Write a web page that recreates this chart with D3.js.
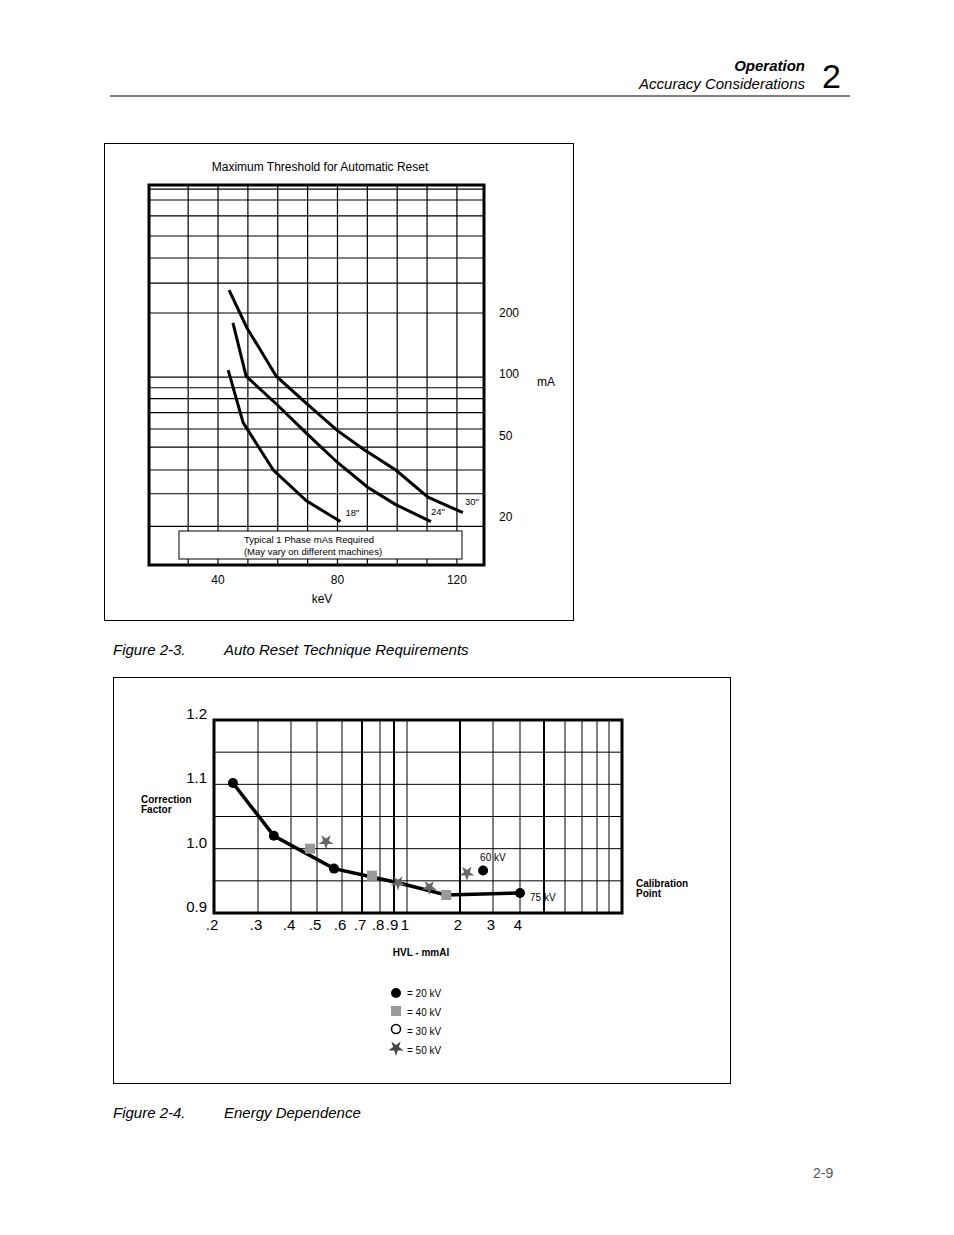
<!DOCTYPE html>
<html><head><meta charset="utf-8">
<script src="https://cdn.jsdelivr.net/npm/d3@7"></script>
<style>body{margin:0;background:#fff}text{font-family:"Liberation Sans",Arial,sans-serif}</style>
</head><body><div id="page"></div>
<script>
// Figure 2-3 data (keV, mA)
var curve30 = [[43.7,259],[49.7,169],[59.5,98],[69.2,73],[80,53],[88.7,43],[99.5,34],[110.3,25],[122,21]];
var curve24 = [[45,179],[49.4,98],[59.8,71],[69.9,51],[80,37],[90.1,28],[99.5,23],[111.3,19]];
var curve18 = [[43.4,105],[48.4,58],[58.5,34],[69.6,24],[81,19]];
var curveLabels = [["18\"",81,19,12,-6],["24\"",111.3,19,7,-7],["30\"",122,21,9,-8]];
var kevGrid = [30,40,50,60,70,80,90,100,110,120];
var kevTicks = [40,80,120];
var maGrid = [810,716,598,477,372,280,200,97,86,76,65,54,44,34,26,18];
var maTicks = [200,100,50,20];

// Figure 2-4 data (HVL mmAl, correction factor)
var fitLine = [[0.243,1.102],[0.348,1.02],[0.568,0.969],[0.756,0.956],[0.931,0.947],[1.74,0.928],[4,0.931]];
var kv20 = [[0.243,1.102],[0.348,1.02],[0.568,0.969],[4,0.931],[2.70,0.966]];
var kv40 = [[0.473,1.0],[0.756,0.958],[1.74,0.928]];
var kv50 = [[0.536,1.011],[0.931,0.947],[1.42,0.94],[2.21,0.962]];
// chart paper spacing (not a pure log scale)
var hvlPaper = [0.2,0.3,0.4,0.5,0.6,0.7,0.8,0.9,1,2,3,4,5,6,7,8,9,10];
var hvlPaperPx = [214,258,291,317,342,362,380,394,407,460,493,520,544,565,582,597,609,622];
var hvlBold = [0.7,0.9,2,5];
var hvlTicks = [[0.2,".2"],[0.3,".3"],[0.4,".4"],[0.5,".5"],[0.6,".6"],[0.7,".7"],[0.8,".8"],[0.9,".9"],[1,"1"],[2,"2"],[3,"3"],[4,"4"]];
var cfGrid = [0.95,1.0,1.05,1.1,1.15];
var cfTicks = [[1.2,"1.2"],[1.1,"1.1"],[1.0,"1.0"],[0.9,"0.9"]];
var legendItems = ["= 20 kV","= 40 kV","= 30 kV","= 50 kV"];

var svg = d3.select("#page").append("svg").attr("width",954).attr("height",1235);

// page header
svg.append("text").attr("x",805).attr("y",71).attr("text-anchor","end").style("font-size","15px")
  .style("font-weight","bold").style("font-style","italic").text("Operation");
svg.append("text").attr("x",805).attr("y",89).attr("text-anchor","end").style("font-size","15px")
  .style("font-style","italic").text("Accuracy Considerations");
svg.append("text").attr("x",822).attr("y",88).style("font-size","34px").text("2");
svg.append("line").attr("x1",110).attr("x2",850).attr("y1",96).attr("y2",96).attr("stroke","#000");

// ---------- Figure 2-3 ----------
svg.append("rect").attr("x",104.5).attr("y",143.5).attr("width",469).attr("height",477)
  .attr("fill","none").attr("stroke","#000");
svg.append("text").attr("x",320).attr("y",171).attr("text-anchor","middle").style("font-size","12px")
  .text("Maximum Threshold for Automatic Reset");

var x1 = d3.scaleLinear().domain([16.55,129.4]).range([148,485]);
var y1 = d3.scaleLog().domain([20,200]).range([517,313]);
var g1 = svg.append("g");
g1.selectAll(".vg").data(kevGrid).enter().append("line")
  .attr("x1",d=>x1(d)).attr("x2",d=>x1(d)).attr("y1",184).attr("y2",566)
  .attr("stroke","#000").attr("stroke-width",1.2);
g1.selectAll(".hg").data(maGrid).enter().append("line")
  .attr("x1",148).attr("x2",485).attr("y1",d=>y1(d)).attr("y2",d=>y1(d))
  .attr("stroke","#000").attr("stroke-width",1.2);
g1.append("rect").attr("x",179).attr("y",531).attr("width",283).attr("height",28)
  .attr("fill","#fff").attr("stroke","#000");
g1.append("text").attr("x",309).attr("y",543).attr("text-anchor","middle").style("font-size","9.5px")
  .text("Typical 1 Phase mAs Required");
g1.append("text").attr("x",313).attr("y",555).attr("text-anchor","middle").style("font-size","9.5px")
  .text("(May vary on different machines)");
g1.append("rect").attr("x",149).attr("y",185).attr("width",335).attr("height",380)
  .attr("fill","none").attr("stroke","#000").attr("stroke-width",3);

var line1 = d3.line().x(d=>x1(d[0])).y(d=>y1(d[1]));
[curve30,curve24,curve18].forEach(function(c){
  g1.append("path").attr("d",line1(c)).attr("fill","none").attr("stroke","#000").attr("stroke-width",3);
});
g1.selectAll(".cl").data(curveLabels).enter().append("text")
  .attr("x",d=>x1(d[1])+d[3]).attr("y",d=>y1(d[2])+d[4]).attr("text-anchor","middle")
  .style("font-size","9.5px").text(d=>d[0]);
g1.selectAll(".kt").data(kevTicks).enter().append("text")
  .attr("x",d=>x1(d)).attr("y",584).attr("text-anchor","middle").style("font-size","12px").text(d=>d);
svg.append("text").attr("x",322).attr("y",603).attr("text-anchor","middle").style("font-size","12px").text("keV");
g1.selectAll(".mt").data(maTicks).enter().append("text")
  .attr("x",499).attr("y",d=>y1(d)+4).style("font-size","12px").text(d=>d);
svg.append("text").attr("x",537).attr("y",386).style("font-size","12px").text("mA");

svg.append("text").attr("x",113).attr("y",655).style("font-size","15px").style("font-style","italic").text("Figure 2-3.");
svg.append("text").attr("x",224).attr("y",655).style("font-size","15px").style("font-style","italic").text("Auto Reset Technique Requirements");

// ---------- Figure 2-4 ----------
svg.append("rect").attr("x",113.5).attr("y",677.5).attr("width",617).attr("height",406)
  .attr("fill","none").attr("stroke","#000");

var x2 = d3.scaleLinear().domain(hvlPaper).range(hvlPaperPx);
var y2 = d3.scaleLinear().domain([0.9,1.2]).range([913,720]);
var g2 = svg.append("g");
g2.selectAll(".vg").data(hvlPaper.slice(1,-1)).enter().append("line")
  .attr("x1",d=>x2(d)).attr("x2",d=>x2(d)).attr("y1",720).attr("y2",913)
  .attr("stroke","#000").attr("stroke-width",d=>hvlBold.includes(d)?2:1);
g2.selectAll(".hg").data(cfGrid).enter().append("line")
  .attr("x1",214).attr("x2",622).attr("y1",d=>y2(d)).attr("y2",d=>y2(d))
  .attr("stroke","#000").attr("stroke-width",1);
g2.append("rect").attr("x",214).attr("y",720).attr("width",408).attr("height",193)
  .attr("fill","none").attr("stroke","#000").attr("stroke-width",3);

var line2 = d3.line().x(d=>x2(d[0])).y(d=>y2(d[1]));
g2.append("path").attr("d",line2(fitLine)).attr("fill","none").attr("stroke","#000").attr("stroke-width",3.5);
g2.selectAll(".sq").data(kv40).enter().append("rect")
  .attr("x",d=>x2(d[0])-5).attr("y",d=>y2(d[1])-5).attr("width",10).attr("height",10).attr("fill","#999");
var star = d3.symbol().type(d3.symbolStar).size(70);
g2.selectAll(".st").data(kv50).enter().append("path").attr("d",star)
  .attr("transform",d=>`translate(${x2(d[0])},${y2(d[1])}) rotate(36)`).attr("fill","#666");
g2.selectAll(".ci").data(kv20).enter().append("circle")
  .attr("cx",d=>x2(d[0])).attr("cy",d=>y2(d[1])).attr("r",5).attr("fill","#000");
g2.append("text").attr("x",x2(2.70)-3).attr("y",y2(0.966)-10).style("font-size","10px").text("60 kV");
g2.append("text").attr("x",x2(4)+10).attr("y",y2(0.931)+8).style("font-size","10px").text("75 kV");

g2.selectAll(".xt").data(hvlTicks).enter().append("text")
  .attr("x",d=>x2(d[0])-2).attr("y",930).attr("text-anchor","middle").style("font-size","15px").text(d=>d[1]);
g2.selectAll(".yt").data(cfTicks).enter().append("text")
  .attr("x",207).attr("y",d=>y2(d[1])-1).attr("text-anchor","end").style("font-size","15px").text(d=>d[1]);

[["Correction",803],["Factor",813]].forEach(function(t){
  svg.append("text").attr("x",141).attr("y",t[1]).style("font-size","10px").style("font-weight","bold").text(t[0]);
});
[["Calibration",887],["Point",897]].forEach(function(t){
  svg.append("text").attr("x",636).attr("y",t[1]).style("font-size","10px").style("font-weight","bold").text(t[0]);
});
svg.append("text").attr("x",421).attr("y",956).attr("text-anchor","middle").style("font-size","10px")
  .style("font-weight","bold").text("HVL - mmAl");

// legend
var ly = [993,1012,1031,1050];
svg.append("circle").attr("cx",396).attr("cy",ly[0]).attr("r",5).attr("fill","#000");
svg.append("rect").attr("x",391).attr("y",ly[1]-6).attr("width",10).attr("height",10).attr("fill","#999");
svg.append("circle").attr("cx",396).attr("cy",ly[2]-2).attr("r",4.5).attr("fill","#fff").attr("stroke","#000").attr("stroke-width",1.5);
svg.append("path").attr("d",star).attr("transform",`translate(396,${ly[3]-2}) rotate(36)`).attr("fill","#444");
svg.selectAll(".lg").data(legendItems).enter().append("text")
  .attr("x",407).attr("y",(d,i)=>ly[i]+4).style("font-size","10px").text(d=>d);

svg.append("text").attr("x",113).attr("y",1118).style("font-size","15px").style("font-style","italic").text("Figure 2-4.");
svg.append("text").attr("x",224).attr("y",1118).style("font-size","15px").style("font-style","italic").text("Energy Dependence");
svg.append("text").attr("x",813).attr("y",1178).style("font-size","14px").attr("fill","#555").text("2-9");
</script></body></html>
